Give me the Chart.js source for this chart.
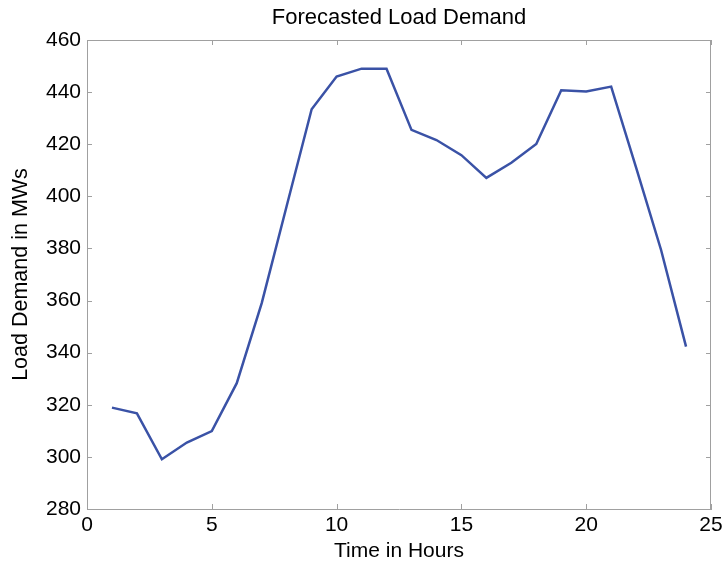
<!DOCTYPE html>
<html>
<head>
<meta charset="utf-8">
<script src="https://cdn.jsdelivr.net/npm/chart.js@4/dist/chart.umd.min.js"></script>
<style>
	html, body { margin: 0; padding: 0; background: #fff; }
	#wrap { width: 728px; height: 566px; }
</style>
</head>
<body>
<div id="wrap"><canvas id="chart" width="728" height="566"></canvas></div>
<script>
// hours 1..24
var hours = [1, 2, 3, 4, 5, 6, 7, 8, 9, 10, 11, 12, 13, 14, 15, 16, 17, 18, 19, 20, 21, 22, 23, 24];
var loadDemand = [318.9, 316.7, 299.1, 305.5, 309.9, 328.3, 359.0, 396.3, 433.4, 446.0, 449.0, 449.0,
	425.5, 421.6, 415.8, 407.1, 412.9, 420.1, 440.7, 440.2, 442.1, 411.0, 379.4, 342.3];
var xTicks = [0, 5, 10, 15, 20, 25];
var yTicks = [280, 300, 320, 340, 360, 380, 400, 420, 440, 460];

var fontFace = '"Liberation Sans", Arial, Helvetica, sans-serif';
var frameColor = '#a0a0a0';

// matlab style box: top/right edges plus inward ticks on every side
var boxPlugin = {
	id: 'box',
	afterDraw: function(chart) {
		var ctx = chart.ctx,
			area = chart.chartArea,
			xs = chart.scales.x,
			ys = chart.scales.y,
			len = 5;

		ctx.save();
		ctx.strokeStyle = frameColor;
		ctx.lineWidth = 1;
		ctx.beginPath();
		ctx.moveTo(area.left, area.top + 0.5);
		ctx.lineTo(area.right, area.top + 0.5);
		ctx.moveTo(area.right - 0.5, area.top);
		ctx.lineTo(area.right - 0.5, area.bottom);

		xTicks.forEach(function(v) {
			var x = Math.round(xs.getPixelForValue(v)) + 0.5;
			ctx.moveTo(x, area.bottom);
			ctx.lineTo(x, area.bottom - len);
			ctx.moveTo(x, area.top);
			ctx.lineTo(x, area.top + len);
		});
		yTicks.forEach(function(v) {
			var y = Math.round(ys.getPixelForValue(v)) + 0.5;
			ctx.moveTo(area.left, y);
			ctx.lineTo(area.left + len, y);
			ctx.moveTo(area.right, y);
			ctx.lineTo(area.right - len, y);
		});
		ctx.stroke();
		ctx.restore();
	}
};

var points = hours.map(function(h, i) {
	return { x: h, y: loadDemand[i] };
});

new Chart(document.getElementById('chart'), {
	type: 'line',
	data: {
		datasets: [{
			data: points,
			borderColor: '#3a52a6',
			borderWidth: 2.5,
			pointRadius: 0,
			tension: 0,
			fill: false
		}]
	},
	options: {
		responsive: false,
		animation: false,
		layout: { padding: { left: 0, right: 17, top: 0, bottom: 0 } },
		plugins: {
			legend: { display: false },
			tooltip: { enabled: false },
			title: { display: false }
		},
		scales: {
			x: {
				type: 'linear',
				min: 0,
				max: 25,
				afterFit: function(scale) { scale.height = 57; },
				afterBuildTicks: function(scale) {
					scale.ticks = xTicks.map(function(v) { return { value: v }; });
				},
				grid: { display: false, drawTicks: false },
				border: { display: true, color: frameColor, width: 1 },
				ticks: {
					color: '#000',
					padding: 4,
					maxRotation: 0,
					font: { family: fontFace, size: 21 }
				},
				title: {
					display: true,
					text: 'Time in Hours',
					color: '#000',
					padding: { top: 0, bottom: 2 },
					font: { family: fontFace, size: 21 }
				}
			},
			// top axis only carries the chart title, centred over the plot box
			top: {
				type: 'linear',
				position: 'top',
				min: 0,
				max: 25,
				afterFit: function(scale) { scale.height = 40; },
				grid: { display: false, drawTicks: false },
				border: { display: false },
				ticks: { display: false },
				title: {
					display: true,
					text: 'Forecasted Load Demand',
					color: '#000',
					padding: { top: 5, bottom: 0 },
					font: { family: fontFace, size: 22 }
				}
			},
			y: {
				min: 280,
				max: 460,
				afterFit: function(scale) { scale.width = 87; },
				afterBuildTicks: function(scale) {
					scale.ticks = yTicks.map(function(v) { return { value: v }; });
				},
				grid: { display: false, drawTicks: false },
				border: { display: true, color: frameColor, width: 1 },
				ticks: {
					color: '#000',
					padding: 6,
					font: { family: fontFace, size: 21 }
				},
				title: {
					display: true,
					text: 'Load Demand in MWs',
					color: '#000',
					padding: { top: 8, bottom: 0 },
					font: { family: fontFace, size: 21.5 }
				}
			}
		}
	},
	plugins: [boxPlugin]
});
</script>
</body>
</html>
